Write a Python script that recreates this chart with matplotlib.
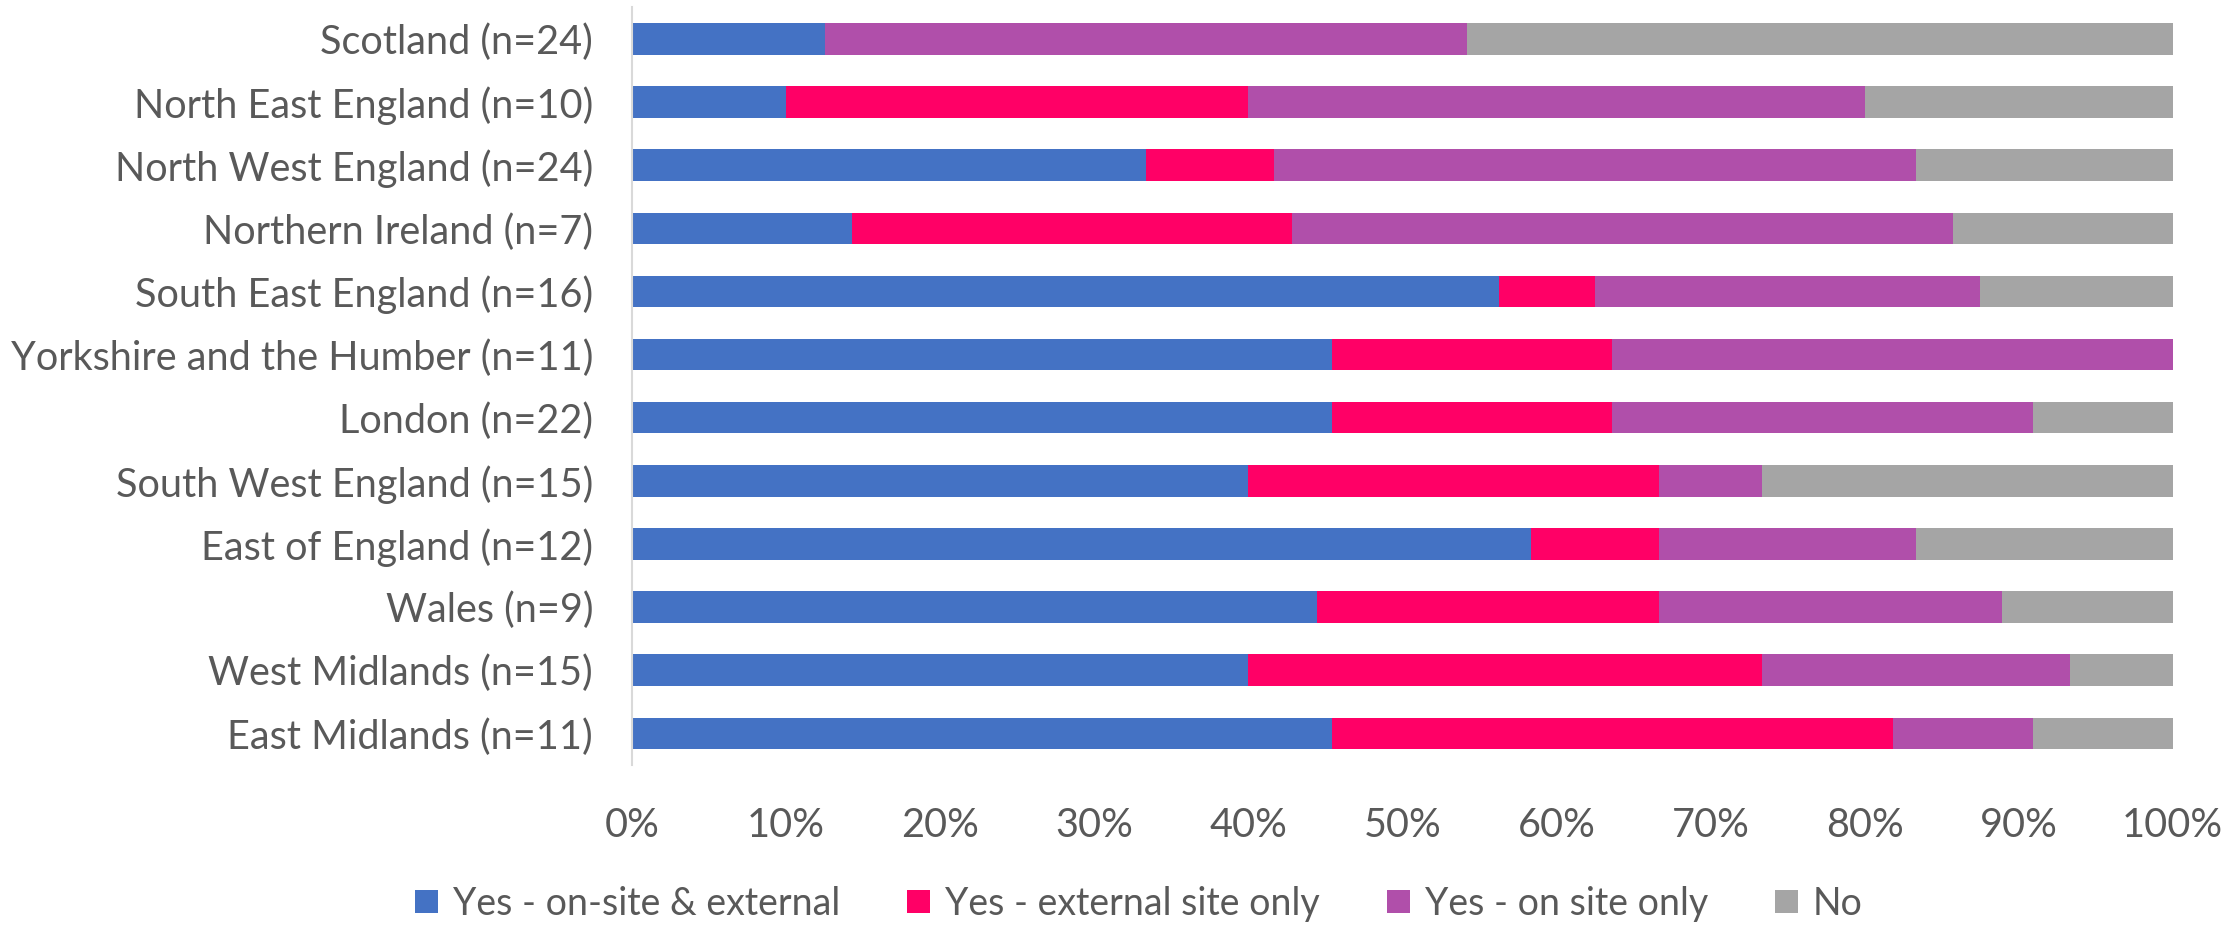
import numpy as np
import matplotlib.pyplot as plt
from matplotlib.patches import Patch

plt.rcParams['font.family'] = ['Lato', 'DejaVu Sans']

# regions listed bottom to top (barh draws index 0 at the bottom)
regions = ["East Midlands (n=11)", "West Midlands (n=15)", "Wales (n=9)",
           "East of England (n=12)", "South West England (n=15)", "London (n=22)",
           "Yorkshire and the Humber (n=11)", "South East England (n=16)",
           "Northern Ireland (n=7)", "North West England (n=24)",
           "North East England (n=10)", "Scotland (n=24)"]

# counts of responses per region
onsite_external = np.array([5, 6, 4, 7, 6, 10, 5, 9, 1, 8, 1, 3])
external_only = np.array([4, 5, 2, 1, 4, 4, 2, 1, 2, 2, 3, 0])
onsite_only = np.array([1, 3, 2, 2, 1, 6, 4, 4, 3, 10, 4, 10])
no = np.array([1, 1, 1, 2, 4, 2, 0, 2, 1, 4, 2, 11])

series = [onsite_external, external_only, onsite_only, no]
names = ["Yes - on-site & external", "Yes - external site only",
         "Yes - on site only", "No"]
colors = ["#4472C4", "#FF0066", "#B04FAA", "#A5A5A5"]

totals = sum(series)
txt = "#595959"

fig = plt.figure(figsize=(22.33, 9.26), dpi=100)
ax = fig.add_axes([0.283, 0.174, 0.690, 0.818])

y = np.arange(len(regions))
left = np.zeros(len(regions))
for vals, c in zip(series, colors):
    share = vals / totals
    ax.barh(y, share, left=left, height=0.5, color=c, edgecolor="none")
    left += share

ax.set_xlim(0, 1)
ax.set_ylim(-0.5, len(regions) - 0.5)
ax.set_xticks(np.linspace(0, 1, 11))
ax.set_xticklabels([f"{int(round(t * 100))}%" for t in np.linspace(0, 1, 11)])
ax.set_yticks(y)
ax.set_yticklabels(regions)
ax.tick_params(axis='both', length=0, colors=txt)
ax.tick_params(axis='x', labelsize=28.5, pad=30)
ax.tick_params(axis='y', labelsize=28.5, pad=28)
for s in ["top", "right", "bottom"]:
    ax.spines[s].set_visible(False)
ax.spines["left"].set_color("#D9D9D9")
ax.spines["left"].set_linewidth(1.5)

handles = [Patch(facecolor=c, label=n) for c, n in zip(colors, names)]
fig.legend(handles=handles, loc="center", bbox_to_anchor=(0.51, 0.024), ncol=4,
           frameon=False, fontsize=27, labelcolor=txt, handlelength=0.6,
           handleheight=0.6, handletextpad=0.4, columnspacing=1.8)

plt.savefig("out.png", dpi=100)
